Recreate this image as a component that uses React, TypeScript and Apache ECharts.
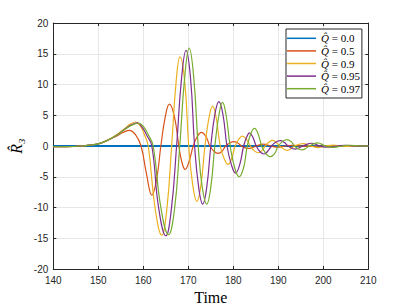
import React, { useEffect, useRef } from "react";
import * as echarts from "echarts";

const xTicks = { min: 140, max: 210, interval: 10 };
const yTicks = { min: -20, max: 20, interval: 5 };

const legendLabels = ["0.0", "0.5", "0.9", "0.95", "0.97"];
const colors = ["#0072BD", "#D95319", "#EDB120", "#7E2F8E", "#77AC30"];

const q00Time = [140, 210];
const q00Val = [0, 0];

const q05Time = [140,143,146,148,150,152,154,155.5,156.9,158.3,159.5,160.7,161.9,163.0,163.9,164.9,165.8,166.9,167.9,168.6,169.3,170.1,171.1,172.0,172.9,173.9,174.8,175.7,176.6,177.5,178.3,179.2,180.0,181.0,181.8,182.7,183.6,185.1,186.7,188.3,190.0,191.6,193.3,195.0,197.0,199.0,210];
const q05Val = [-0.12,-0.1,0.0,0.15,0.35,0.9,1.6,2.2,2.55,1.8,0,-4.5,-8.0,-5.2,0,4.8,6.8,4.8,0,-2.7,-3.8,-2.7,0,1.55,2.2,1.55,0,-0.85,-1.2,-0.85,0,0.5,0.7,0.5,0,-0.3,-0.4,0,0.3,0,-0.2,0,0.12,0,-0.08,0,0];

const q09Time = [140,143,146,148,150,152,154,156,157.2,158.3,159.3,160.2,161.1,162.6,164.1,165.2,166.3,167.3,168.15,169.2,170.1,171.0,171.9,172.8,173.7,174.6,175.4,176.2,177.1,178.0,178.8,179.6,180.4,181.2,182.0,182.9,183.8,184.7,185.5,186.3,187.1,187.9,188.7,189.5,190.3,192.0,193.7,195.5,197.2,199.0,200.6,202.2,204.0,205.8,207.5,210];
const q09Val = [-0.12,-0.1,0,0.15,0.35,0.95,1.8,2.9,3.6,3.9,3.3,1.9,0,-10,-14.5,-10.5,0,10.5,14.5,10.5,0,-6.4,-9.0,-6.4,0,4.6,6.5,4.6,0,-2.1,-3.0,-2.1,0,1.1,1.6,1.1,0,-0.8,-1.1,-0.8,0,0.6,0.9,0.6,0,-0.7,0,0.4,0,-0.25,0,0.15,0,-0.08,0,0];

const q095Time = [140,143,146,148,150,152,154,156,157.5,158.7,159.7,160.8,161.9,163.4,165.0,166.2,167.4,168.5,169.5,170.5,171.4,172.3,173.2,174.1,175.0,175.9,176.8,177.7,178.6,179.6,180.5,181.4,182.3,183.0,183.6,184.3,185.1,185.9,186.8,187.6,188.5,189.4,190.4,191.3,192.2,193.8,195.5,197.4,199.3,201.2,203.1,205.0,207.0,210];
const q095Val = [-0.12,-0.1,0,0.15,0.35,0.9,1.7,2.8,3.5,3.75,3.1,1.7,0,-10,-14.6,-10.5,0,11,15.55,11,0,-6.7,-9.45,-6.7,0,5.1,7.2,5.1,0,-3.1,-4.4,-3.1,0,1.5,2.15,1.5,0,-0.9,-1.3,-0.9,0,0.6,0.87,0.6,0,-0.5,0,0.45,0,-0.2,0,0.12,0,0];

const q097Time = [140,143,146,148,150,152,154,156,157.7,159.0,160.1,161.2,162.2,163.9,165.6,166.9,168.1,169.2,170.2,171.2,172.2,173.1,174.1,175.0,175.9,176.8,177.6,178.4,179.3,180.3,181.3,182.3,183.1,183.9,184.7,185.5,186.3,187.2,188.2,189.2,190.0,191.0,191.9,192.8,193.6,194.4,195.2,196.0,196.9,198.7,200.5,202.3,204.2,206.0,208.0,210];
const q097Val = [-0.12,-0.1,0,0.15,0.35,0.9,1.7,2.75,3.45,3.7,3.1,1.7,0,-10,-14.4,-10.5,0,11.2,15.9,11.2,0,-6.7,-9.45,-6.7,0,5,7.1,5,0,-3.5,-5.0,-3.5,0,2.0,2.85,2.0,0,-1.2,-1.75,-1.2,0,0.75,1.05,0.75,0,-0.45,-0.62,-0.45,0,0.5,0,-0.22,0,0.12,0,0];

const seriesTimes = [q00Time, q05Time, q09Time, q095Time, q097Time];
const seriesVals = [q00Val, q05Val, q09Val, q095Val, q097Val];

const yLabel = "R\u0302\u2083";

const AXIS = "#262626";
const GRID = "#e6e6e6";
const SERIF = "'Liberation Serif', 'DejaVu Serif', serif";
const SANS = "'Liberation Sans', Arial, sans-serif";

export default function App() {
  const ref = useRef<HTMLDivElement>(null);
  useEffect(() => {
    if (!ref.current) return;
    const chart = echarts.init(ref.current, null, { renderer: "svg" });
    const axisCommon = {
      axisLine: { show: true, onZero: false, lineStyle: { color: AXIS, width: 1 } },
      axisTick: { show: true, inside: true, length: 3, lineStyle: { color: AXIS } },
    };
    chart.setOption({
      animation: false,
      backgroundColor: "#ffffff",
      grid: {
        left: 53.3,
        right: 38.7,
        top: 23,
        bottom: 36,
        containLabel: false,
        outerBoundsMode: "none",
      },
      legend: {
        orient: "vertical",
        left: 286,
        top: 29,
        icon: "rect",
        itemWidth: 29,
        itemHeight: 1.5,
        itemGap: 0,
        padding: [3, 2, 3, 1],
        borderColor: AXIS,
        borderWidth: 1,
        backgroundColor: "#ffffff",
        data: legendLabels,
        formatter: (name: string) => `{q|Q\u0302} {t|= ${name}}`,
        textStyle: {
          fontFamily: SERIF,
          fontSize: 11,
          color: "#000",
          lineHeight: 12.6,
          rich: {
            q: { fontFamily: SERIF, fontStyle: "italic", fontSize: 11, lineHeight: 12.6 },
            t: { fontFamily: SERIF, fontSize: 11, lineHeight: 12.6 },
          },
        },
      },
      graphic: [
        {
          type: "text",
          x: 16,
          y: 146,
          rotation: Math.PI / 2,
          originX: 0,
          originY: 0,
          style: {
            text: yLabel,
            font: `italic 16px ${SERIF}`,
            align: "center",
            verticalAlign: "middle",
            fill: "#000",
          },
        },
      ],
      xAxis: [
        {
          type: "value",
          ...xTicks,
          position: "bottom",
          ...axisCommon,
          axisLabel: { color: AXIS, fontFamily: SANS, fontSize: 10, margin: 6 },
          splitLine: { show: true, lineStyle: { color: GRID, width: 1 } },
          name: "Time",
          nameLocation: "middle",
          nameGap: 15,
          nameTextStyle: { fontFamily: SERIF, fontSize: 16, color: "#000" },
        },
        {
          type: "value",
          ...xTicks,
          position: "top",
          ...axisCommon,
          axisLabel: { show: false },
          splitLine: { show: false },
        },
      ],
      yAxis: [
        {
          type: "value",
          ...yTicks,
          position: "left",
          ...axisCommon,
          axisLabel: { color: AXIS, fontFamily: SANS, fontSize: 10, margin: 5 },
          splitLine: { show: true, lineStyle: { color: GRID, width: 1 } },
        },
        {
          type: "value",
          ...yTicks,
          position: "right",
          ...axisCommon,
          axisLabel: { show: false },
          splitLine: { show: false },
        },
      ],
      series: legendLabels.map((label, i) => ({
        name: label,
        type: "line",
        xAxisIndex: 0,
        yAxisIndex: 0,
        data: seriesTimes[i].map((t, j) => [t, seriesVals[i][j]]),
        showSymbol: false,
        smooth: i === 0 ? false : 0.45,
        lineStyle: { color: colors[i], width: i === 0 ? 2 : 1.2 },
        itemStyle: { color: colors[i] },
        z: 2 + i,
      })),
    });
    return () => chart.dispose();
  }, []);
  return (
    <div
      ref={ref}
      style={{ position: "absolute", left: 0, top: 0, width: 407, height: 305 }}
    />
  );
}
